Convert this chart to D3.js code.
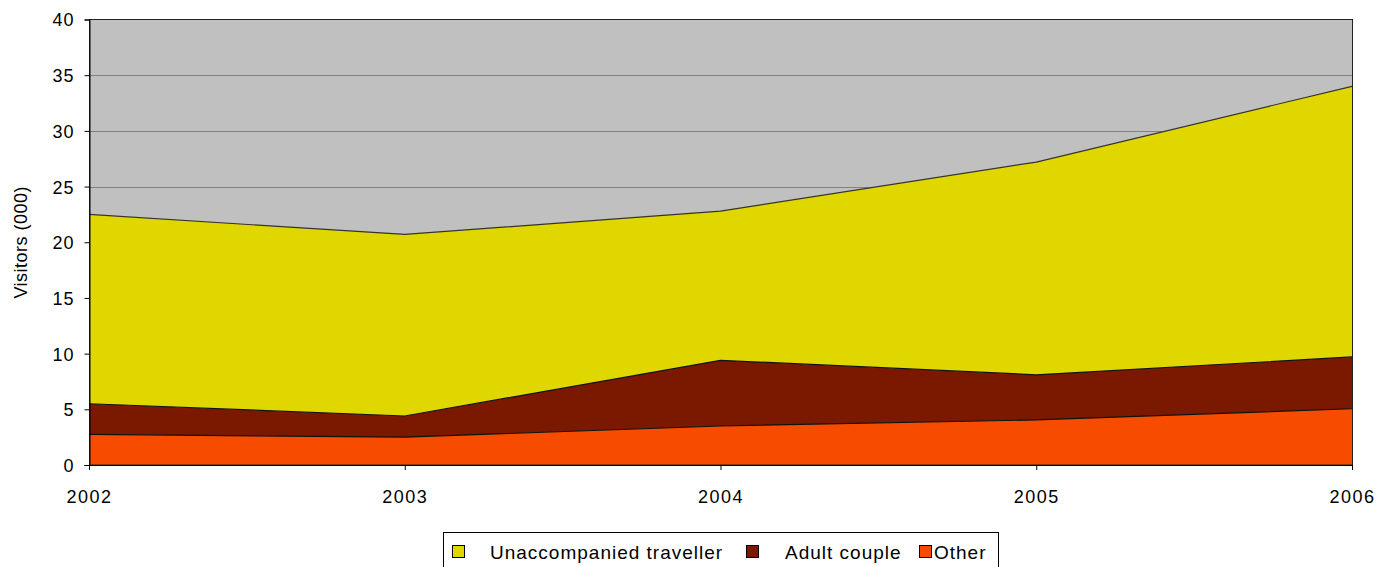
<!DOCTYPE html>
<html>
<head>
<meta charset="utf-8">
<script src="https://cdn.jsdelivr.net/npm/d3@7"></script>
<style>
  body { margin: 0; background: #fff; }
  text { font-family: "Liberation Sans", Arial, sans-serif; fill: #000; }
</style>
</head>
<body>
<svg width="1392" height="567"></svg>
<script>
// data (visitors, thousands)
var years = ["2002", "2003", "2004", "2005", "2006"];
var other = [2.75, 2.5, 3.5, 4.05, 5.05];
var adultCouple = [2.75, 1.9, 5.9, 4.05, 4.65];
var unaccompanied = [17.0, 16.3, 13.4, 19.1, 24.3];
var yTicks = [0, 5, 10, 15, 20, 25, 30, 35, 40];

var seriesNames = ["Unaccompanied traveller", "Adult couple", "Other"];
var seriesColors = {"Unaccompanied traveller": "#e0d700", "Adult couple": "#7a1900", "Other": "#f74c00"};

var svg = d3.select("svg"),
  width = +svg.attr("width"),
  height = +svg.attr("height");

var margin = {top: 19.5, left: 89, right: 40, bottom: 102};

var rows = years.map(function(y, i) {
  return {year: y, "Other": other[i], "Adult couple": adultCouple[i], "Unaccompanied traveller": unaccompanied[i]};
});

var x = d3.scalePoint().domain(years).range([margin.left, width - margin.right]);
var y = d3.scaleLinear().domain([0, 40]).range([height - margin.bottom, margin.top]);

// plot background
svg.append("rect")
  .attr("x", x.range()[0]).attr("y", y(40))
  .attr("width", x.range()[1] - x.range()[0]).attr("height", y(0) - y(40))
  .attr("fill", "#c0c0c0");

// gridlines
svg.append("g").selectAll("line").data(yTicks.filter(d => d > 0 && d < 40))
  .enter().append("line")
  .attr("x1", x.range()[0]).attr("x2", x.range()[1])
  .attr("y1", d => Math.round(y(d)) + 0.5).attr("y2", d => Math.round(y(d)) + 0.5)
  .attr("stroke", "#808080").attr("stroke-width", 1);

var stack = d3.stack().keys(["Other", "Adult couple", "Unaccompanied traveller"]);
var layers = stack(rows);

var area = d3.area()
  .x(d => x(d.data.year))
  .y0(d => y(d[0]))
  .y1(d => y(d[1]));

var topLine = d3.line()
  .x(d => x(d.data.year))
  .y(d => y(d[1]));

svg.append("g").selectAll("path").data(layers)
  .enter().append("path")
  .attr("d", area)
  .attr("fill", d => seriesColors[d.key]);

svg.append("g").selectAll("path").data(layers)
  .enter().append("path")
  .attr("d", topLine)
  .attr("fill", "none")
  .attr("stroke", d => d.key == "Unaccompanied traveller" ? "#333" : "#111")
  .attr("stroke-width", 1.2);

// plot border
svg.append("rect")
  .attr("x", x.range()[0] + 0.5).attr("y", y(40))
  .attr("width", x.range()[1] - x.range()[0]).attr("height", y(0) - y(40))
  .attr("fill", "none").attr("stroke", "#222").attr("stroke-width", 1);

// axes
var yAxis = d3.axisLeft(y).tickValues(yTicks).tickSize(5).tickPadding(10);
var gy = svg.append("g").attr("transform", "translate(" + (margin.left + 0.5) + ",0)").call(yAxis);
gy.select(".domain").attr("stroke", "#000");
gy.selectAll(".tick line").attr("stroke", "#000");
gy.selectAll("text").style("font-size", "18px").style("letter-spacing", "1px").attr("fill", "#000").attr("dy", "0.36em");

var xAxis = d3.axisBottom(x).tickSize(5).tickPadding(20);
var gx = svg.append("g").attr("transform", "translate(0," + y(0) + ")").call(xAxis);
gx.select(".domain").attr("stroke", "#000");
gx.selectAll(".tick line").attr("stroke", "#000");
gx.selectAll("text").style("font-size", "18px").style("letter-spacing", "1.5px").attr("fill", "#000");

// y label
svg.append("text")
  .attr("transform", "translate(27," + ((y(0) + y(40)) / 2) + ") rotate(-90)")
  .attr("text-anchor", "middle")
  .style("font-size", "18px")
  .style("letter-spacing", "0.5px")
  .text("Visitors (000)");

// legend
var legend = svg.append("g");
legend.append("rect")
  .attr("x", 443.5).attr("y", 532.5).attr("width", 555).attr("height", 40)
  .attr("fill", "#fff").attr("stroke", "#000");

var legendItems = [
  {name: "Unaccompanied traveller", sx: 452, tx: 490},
  {name: "Adult couple", sx: 746, tx: 785},
  {name: "Other", sx: 919, tx: 934}
];

legendItems.forEach(function(d) {
  legend.append("rect")
    .attr("x", d.sx + 0.5).attr("y", 545.5).attr("width", 12).attr("height", 12)
    .attr("fill", seriesColors[d.name]).attr("stroke", "#000");
  legend.append("text")
    .attr("x", d.tx).attr("y", 559)
    .style("font-size", "19px")
    .style("letter-spacing", "1px")
    .text(d.name);
});
</script>
</body>
</html>
